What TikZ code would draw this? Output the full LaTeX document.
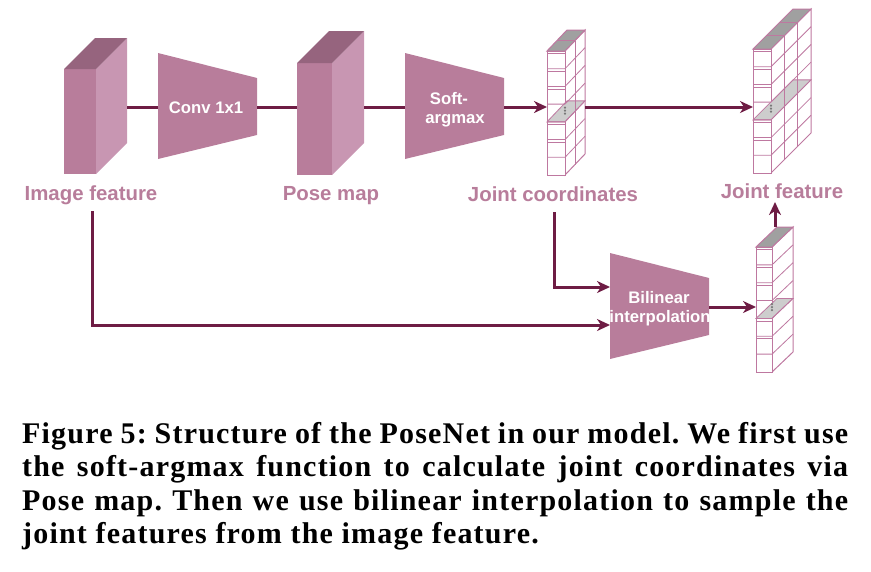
\documentclass[tikz,border=0pt]{standalone}
\usepackage{fontspec}
\setmainfont{Liberation Serif}
\newfontfamily\lsans{Liberation Sans}
\newfontfamily\capfont[LetterSpace=4]{Liberation Serif}
\usetikzlibrary{arrows.meta}
\frenchspacing
\definecolor{blk}{RGB}{184,125,155}
\definecolor{blkside}{RGB}{200,150,178}
\definecolor{blktop}{RGB}{150,100,126}
\definecolor{conncol}{RGB}{110,28,68}
\definecolor{cellline}{RGB}{190,120,160}
\definecolor{cellgrey}{RGB}{160,160,160}
\definecolor{cellgreyl}{RGB}{205,205,205}
\definecolor{dotgrey}{RGB}{120,120,120}
\newcommand\featblock[5]{%
  \fill[blk] (#1,#2) rectangle ++(#3,#4);
  \fill[blkside] (#1+#3,#2) -- ++(#5,-#5) -- ++(0,#4) -- ++(-#5,#5) -- cycle;
  \fill[blktop] (#1,#2) -- ++(#3,0) -- ++(#5,-#5) -- ++(-#3,0) -- cycle;}
\newcommand\cubecol[7]{%
  \pgfmathsetmacro\cx{#1+#3}%
  \pgfmathsetmacro\ch{#4/7}%
  \filldraw[fill=white, draw=cellline, line width=1pt] (\cx,#2) -- ++(#5,-#6) -- ++(0,#4) -- ++(-#5,#6) -- cycle;
  \filldraw[fill=cellgrey, draw=cellline, line width=1pt] (#1,#2) -- (\cx,#2) -- ++(#5,-#6) -- ++(-#3,0) -- cycle;
  \filldraw[fill=white, draw=cellline, line width=1pt] (#1,#2) rectangle (\cx,#2+#4);
  \pgfmathsetmacro\yg{#2+4*\ch}%
  \filldraw[fill=cellgreyl, draw=cellline, line width=0.8pt] (#1,\yg) -- (\cx,\yg) -- ++(#5,-#6) -- ++(-#3,0) -- cycle;
  \foreach \k in {1,2,3,4,5,6}{%
    \pgfmathsetmacro\yk{#2+\k*\ch}%
    \draw[cellline, line width=0.8pt] (#1,\yk) -- (\cx,\yk) -- ++(#5,-#6);
    \ifnum\k=3\else\ifnum\k=6\else
    \draw[cellline, line width=0.6pt] (#1,\yk+2.5) -- (\cx,\yk+2.5);
    \fi\fi
  }%
  \draw[cellline, line width=0.6pt] (#1,#2+2.5) -- (\cx,#2+2.5);
  \pgfmathtruncatemacro\nm{#7-1}%
  \ifnum\nm>0
  \foreach \j in {1,...,\nm}{%
    \pgfmathsetmacro\ox{#5*\j/#7}%
    \pgfmathsetmacro\oy{#6*\j/#7}%
    \draw[cellline, line width=0.8pt] (\cx+\ox,#2-\oy) -- (\cx+\ox,#2+#4-\oy);
    \draw[cellline, line width=0.8pt] (#1+\ox,#2-\oy) -- (\cx+\ox,#2-\oy);
  }\fi
  \pgfmathsetmacro\yd{#2+3.2*\ch}%
  \foreach \d in {0,3,6}{\fill[dotgrey] (\cx,\yd+\d) circle (1.2);}
}
\tikzset{
  connline/.style={draw=conncol, line width=3pt},
  arrline/.style={connline, -{Stealth[length=13pt,width=12pt,inset=4pt]}},
  lab/.style={text=blk, font=\lsans\bfseries\fontsize{20.4}{23}\selectfont, inner sep=0pt},
  inlab/.style={text=white, font=\lsans\bfseries\fontsize{16.7}{19}\selectfont, inner sep=0pt},
  captext/.style={font=\capfont\bfseries\fontsize{30}{33}\selectfont, inner sep=0pt, anchor=base west}
}
\begin{document}
\begin{tikzpicture}[x=1pt,y=-1pt]
\useasboundingbox (0,0) rectangle (871,571);
% blocks
\featblock{64}{69}{32}{105}{31}
\featblock{297}{63}{35}{112}{32}
% trapezoids
\fill[blk] (158,53) -- (257,78) -- (257,135) -- (158,159) -- cycle;
\fill[blk] (405,53) -- (504,78) -- (504,135) -- (405,159) -- cycle;
\fill[blk] (610,253) -- (709,278) -- (709,335) -- (610,359) -- cycle;
% cube columns
\cubecol{547}{51}{18}{124}{20}{21}{2}
\cubecol{753}{49}{18}{124}{40}{40}{3}
\cubecol{756}{247}{16}{125}{21}{20}{1}
% inner labels
\node[inlab, anchor=base] (conv) at (206,113) {Conv 1x1};
\node[inlab, anchor=base] (soft1) at (449,104) {Soft-};
\node[inlab, anchor=base] (soft2) at (455,123) {argmax};
\node[inlab, anchor=base] (bil1) at (659,303) {Bilinear};
\node[inlab, anchor=base] (bil2) at (660,322) {interpolation};
% labels
\node[lab, anchor=base] (imgf) at (91,200) {Image feature};
\node[lab, anchor=base] (posem) at (331,200) {Pose map};
\node[lab, anchor=base] (jcoord) at (553,201) {Joint coordinates};
\node[lab, anchor=base] (jfeat) at (782,198) {Joint feature};
% connector points
\coordinate (imgR) at (127,107);
\coordinate (convL) at (158,107);
\coordinate (convR) at (257,107);
\coordinate (poseL) at (297,107);
\coordinate (poseR) at (364,107);
\coordinate (softL) at (405,107);
\coordinate (softR) at (504,107);
\coordinate (jcL) at (547,107);
\coordinate (jcR) at (585,107);
\coordinate (jfL) at (753,107);
\coordinate (jcDown) at (554,212);
\coordinate (jcBend) at (554,287);
\coordinate (bilTop) at (610,287);
\coordinate (imgDown) at (92,211);
\coordinate (imgBend) at (92,325);
\coordinate (bilBot) at (610,325);
\coordinate (bilR) at (709,307);
\coordinate (colL) at (756,307);
\coordinate (colTop) at (775,227);
\coordinate (jfBot) at (775,202);
% connectors
\draw[connline] (imgR) -- (convL);
\draw[connline] (convR) -- (poseL);
\draw[connline] (poseR) -- (softL);
\draw[arrline] (softR) -- (jcL);
\draw[arrline] (jcR) -- (jfL);
\draw[arrline] (jcDown) -- (jcBend) -- (bilTop);
\draw[arrline] (imgDown) -- (imgBend) -- (bilBot);
\draw[arrline] (bilR) -- (colL);
\draw[arrline] (colTop) -- (jfBot);
% caption
\node[captext] (cap1) at (22,443) {\makebox[826pt][s]{Figure 5: Structure of the PoseNet in our model. We first use}};
\node[captext] (cap2) at (22,476) {\makebox[826pt][s]{the soft-argmax function to calculate joint coordinates via}};
\node[captext] (cap3) at (22,510) {\makebox[826pt][s]{Pose map. Then we use bilinear interpolation to sample the}};
\node[captext] (cap4) at (22,543) {joint features from the image feature.};
\end{tikzpicture}
\end{document}
